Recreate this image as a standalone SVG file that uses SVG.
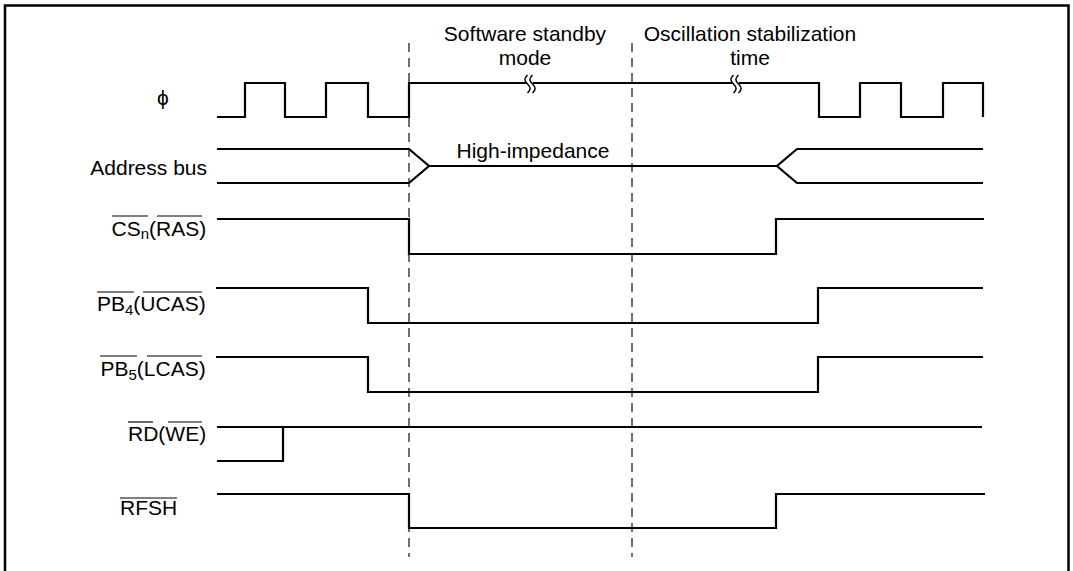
<svg xmlns="http://www.w3.org/2000/svg" width="1073" height="571" viewBox="0 0 1073 571">
<style>
text{font-family:"Liberation Sans",Arial,sans-serif;font-size:21px;fill:#000}
.sig{fill:none;stroke:#000;stroke-width:2.2;stroke-linejoin:miter}
.ov{stroke:#000;stroke-width:1.2}
.dash{stroke:#333;stroke-width:1.4;stroke-dasharray:9 6}
.brk{fill:none;stroke:#000;stroke-width:1.5}
</style>
<rect x="0" y="0" width="1073" height="571" fill="#fff"/>
<rect x="5" y="5.5" width="1063.5" height="600" fill="none" stroke="#000" stroke-width="2.5"/>

<g id="headers">
<text x="525" y="41" text-anchor="middle">Software standby</text>
<text x="525" y="65" text-anchor="middle">mode</text>
<text x="750" y="41" text-anchor="middle">Oscillation stabilization</text>
<text x="750" y="65" text-anchor="middle">time</text>
<text x="533" y="158" text-anchor="middle">High-impedance</text>
</g>

<g id="guides">
<line class="dash" x1="409" y1="43" x2="409" y2="557"/>
<line class="dash" x1="632" y1="43" x2="632" y2="557"/>
</g>

<g id="phi">
<text x="163" y="105" text-anchor="middle">ϕ</text>
<path class="sig" d="M217,117 H245 V83 H285 V117 H326 V83 H368 V117 H409 V83 H819 V117 H860 V83 H901 V117 H943 V83 H983 V117"/>
<rect x="527" y="80" width="6" height="6" fill="#fff"/>
<path class="brk" d="M527.5,75 C524,78.5 524,80.5 527.5,84 C531,87.5 531,89.5 527.5,93"/>
<path class="brk" d="M532.5,75 C529,78.5 529,80.5 532.5,84 C536,87.5 536,89.5 532.5,93"/>
<rect x="733" y="80" width="6" height="6" fill="#fff"/>
<path class="brk" d="M733.5,75 C730,78.5 730,80.5 733.5,84 C737,87.5 737,89.5 733.5,93"/>
<path class="brk" d="M738.5,75 C735,78.5 735,80.5 738.5,84 C742,87.5 742,89.5 738.5,93"/>
</g>

<g id="address-bus">
<text x="207" y="175" text-anchor="end">Address bus</text>
<path class="sig" d="M217,149 H409 L429,166 L409,183 H217"/>
<path class="sig" d="M429,166 H777"/>
<path class="sig" d="M983,149 H797 L777,166 L797,183 H983"/>
</g>

<g id="cs">
<text x="111.5" y="236">CS<tspan font-size="15" dy="3">n</tspan><tspan dy="-3">(RAS)</tspan></text>
<line class="ov" x1="112" y1="216" x2="148" y2="216"/>
<line class="ov" x1="157" y1="216" x2="202" y2="216"/>
<path class="sig" d="M217,219 H409 V254 H776 V219 H984"/>
</g>

<g id="pb4">
<text x="97" y="311">PB<tspan font-size="15" dy="4">4</tspan><tspan dy="-4">(UCAS)</tspan></text>
<line class="ov" x1="97" y1="292" x2="134" y2="292"/>
<line class="ov" x1="143" y1="292" x2="202" y2="292"/>
<path class="sig" d="M216,288 H368 V323 H818 V288 H983"/>
</g>

<g id="pb5">
<text x="100.5" y="376">PB<tspan font-size="15" dy="4">5</tspan><tspan dy="-4">(LCAS)</tspan></text>
<line class="ov" x1="100" y1="356" x2="137" y2="356"/>
<line class="ov" x1="147" y1="356" x2="202" y2="356"/>
<path class="sig" d="M216,357 H368 V392 H818 V357 H983"/>
</g>

<g id="rd">
<text x="128" y="441">RD(WE)</text>
<line class="ov" x1="128" y1="422" x2="153" y2="422"/>
<line class="ov" x1="168" y1="422" x2="202" y2="422"/>
<path class="sig" d="M217,427 H982"/>
<path class="sig" d="M217,461 H283 V427"/>
</g>

<g id="rfsh">
<text x="120" y="515">RFSH</text>
<line class="ov" x1="120" y1="498" x2="177" y2="498"/>
<path class="sig" d="M217,494 H409 V528 H776 V494 H985"/>
</g>
</svg>
